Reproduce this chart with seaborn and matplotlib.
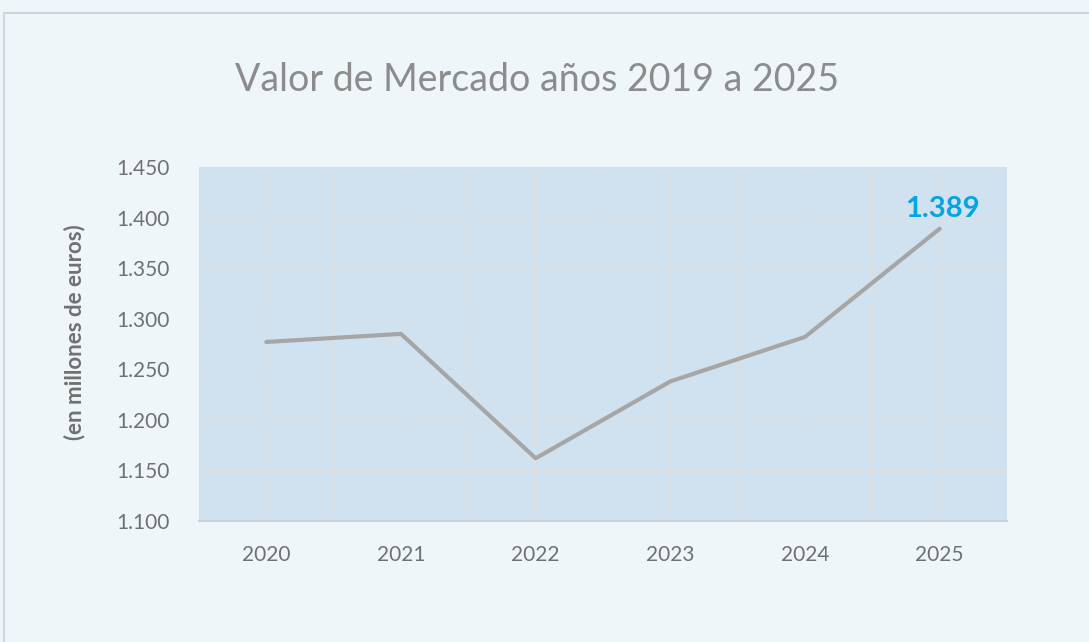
import matplotlib
matplotlib.use("Agg")
import matplotlib.pyplot as plt
import seaborn as sns
import pandas as pd
from matplotlib.patches import Rectangle

years = ["2020", "2021", "2022", "2023", "2024", "2025"]
valor = [1.277, 1.285, 1.162, 1.238, 1.282, 1.389]
yticks = [1.100, 1.150, 1.200, 1.250, 1.300, 1.350, 1.400, 1.450]
ytick_labels = ["1.100", "1.150", "1.200", "1.250", "1.300", "1.350", "1.400", "1.450"]

df = pd.DataFrame({"year": years, "valor": valor})

sns.set_style("white")
plt.rcParams["font.family"] = ["Lato", "DejaVu Sans"]

fig = plt.figure(figsize=(10.89, 6.42), dpi=100)
fig.patch.set_facecolor("#EFF6F9")
# marco exterior
fig.patches.append(Rectangle((4 / 1089, -0.01), 1.1, 1 - 13 / 642 + 0.01, transform=fig.transFigure,
                             fill=False, edgecolor="#CDD6DB", linewidth=1.5))

ax = fig.add_axes([199 / 1089, 1 - 521 / 642, (1007 - 199) / 1089, (521 - 167) / 642])
ax.set_facecolor("#D0E2F0")

sns.lineplot(data=df, x="year", y="valor", ax=ax, color="#A6A6A6", linewidth=3, sort=False)

ax.set_xlim(-0.5, 5.5)
ax.set_ylim(1.100, 1.450)
ax.set_yticks(yticks)
ax.set_yticklabels(ytick_labels)
ax.set_xticks(range(len(years)))
ax.set_xticks([i + 0.5 for i in range(-1, len(years))], minor=True)
ax.grid(True, which="both", color="#D8DDE2", linewidth=1)
ax.set_axisbelow(True)
ax.tick_params(axis="both", which="both", length=0, labelsize=15, labelcolor="#707070")
ax.tick_params(axis="x", pad=17)
ax.tick_params(axis="y", pad=21)
for s in ["top", "right", "left"]:
    ax.spines[s].set_visible(False)
ax.spines["bottom"].set_color("#C9D2DC")
ax.spines["bottom"].set_linewidth(1.5)

ax.set_xlabel("")
ax.set_ylabel("(en millones de euros)", fontsize=16, fontweight="bold", color="#707070")
ax.yaxis.set_label_coords(-0.141, 0.534)

ax.annotate(f"{valor[-1]:.3f}", xy=(5, valor[-1]), xytext=(2, 5), textcoords="offset points",
            ha="center", va="bottom", fontsize=21, fontweight="bold", color="#00A5E6")

fig.text(537 / 1089, 1 - 80 / 642, "Valor de Mercado años 2019 a 2025", ha="center", va="center",
         fontsize=27, color="#8C8C8C")

fig.savefig("out.png", dpi=100, facecolor=fig.get_facecolor())
